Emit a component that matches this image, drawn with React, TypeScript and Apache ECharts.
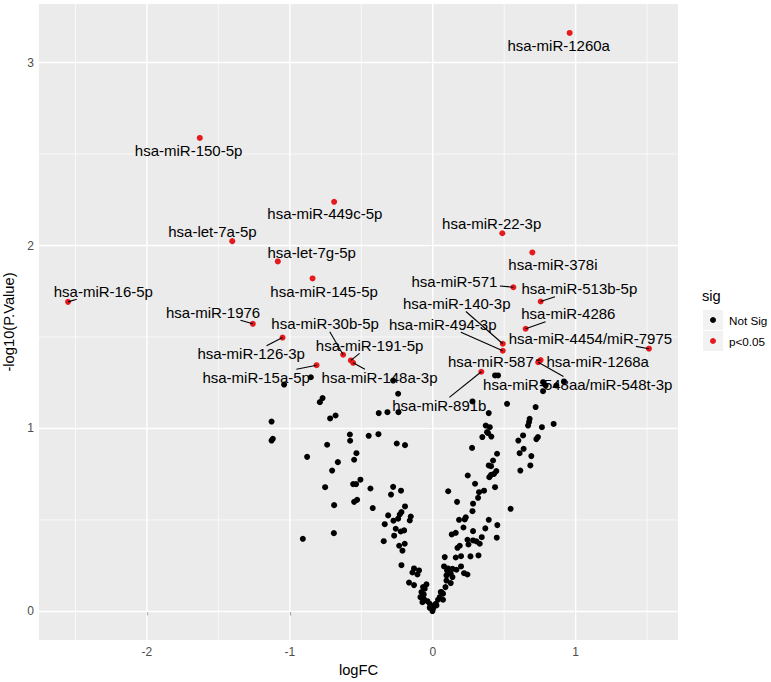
import React, { useEffect, useRef } from "react";
import * as echarts from "echarts";

const FONT = '"Liberation Sans", Arial, Helvetica, sans-serif';
const RED = "#E41A1C";

const LEGEND_TITLE = "sig";
const LEGEND_LABELS = ["Not Sig", "p<0.05"];

const X_TICKS = [-2, -1, 0, 1];
const X_MINOR = [-2.5, -1.5, -0.5, 0.5, 1.5];
const Y_TICKS = [0, 1, 2, 3];
const Y_MINOR = [0.5, 1.5, 2.5];

const SIG_NAMES = [
  "hsa-miR-1260a", "hsa-miR-150-5p", "hsa-miR-449c-5p", "hsa-miR-22-3p", "hsa-let-7a-5p",
  "hsa-miR-378i", "hsa-let-7g-5p", "hsa-miR-145-5p", "hsa-miR-571", "hsa-miR-513b-5p",
  "hsa-miR-16-5p", "hsa-miR-1976", "hsa-miR-4286", "hsa-miR-126-3p", "hsa-miR-140-3p",
  "hsa-miR-4454/miR-7975", "hsa-miR-494-3p", "hsa-miR-30b-5p", "hsa-miR-191-5p", "hsa-miR-587",
  "hsa-miR-1268a", "hsa-miR-548aa/miR-548t-3p", "hsa-miR-148a-3p", "hsa-miR-15a-5p", "hsa-miR-891b",
];
const SIG_LOGFC = [
  0.958, -1.63, -0.69, 0.487, -1.403, 0.697, -1.084, -0.841, 0.564, 0.755,
  -2.552, -1.259, 0.65, -1.051, 0.49, 1.513, 0.49, -0.627, -0.573, 0.755,
  0.742, 0.738, -0.557, -0.813, 0.34,
];
const SIG_NEGLOGP = [
  3.162, 2.588, 2.239, 2.067, 2.024, 1.962, 1.913, 1.82, 1.772, 1.694,
  1.692, 1.572, 1.545, 1.497, 1.463, 1.436, 1.425, 1.403, 1.372, 1.374,
  1.366, 1.362, 1.359, 1.346, 1.31,
];

const NS_LOGFC = [
  -1.04, -0.853, -0.771, -0.79, -1.128, -0.68, -0.718, -1.119, -1.128, -0.58, -0.578, -0.448, -0.739, -0.534, -0.879,
  -0.664, -0.55, -0.704, -0.506, -0.557, -0.536, -0.753, -0.436, -0.55, -0.529, -0.69, -0.42, -0.692, -0.909,
  -0.252, -0.194, -0.277, -0.222, -0.292, -0.194, -0.219, -0.231, -0.312, -0.154, -0.161, -0.275, -0.242, -0.336,
  -0.259, -0.224, -0.2, -0.27, -0.235, -0.196, -0.343, -0.212, -0.219, -0.131, -0.096, -0.142, -0.107, -0.166,
  -0.131, -0.044, -0.056, -0.079, -0.063, -0.086, -0.063, -0.037, -0.021, -0.009, 0.002, 0.026, -0.002, 0.037,
  0.061, 0.084, 0.108, 0.079, 0.1, 0.096, 0.089, 0.072,
  0.275, 0.45, 0.422, 0.392, 0.408, 0.445, 0.429, 0.396, 0.408, 0.245, 0.296, 0.436, 0.324, 0.359, 0.317,
  0.282, 0.17, 0.278, 0.231, 0.224, 0.184, 0.392, 0.452, 0.215, 0.368, 0.282, 0.161, 0.133, 0.343, 0.448,
  0.243, 0.282, 0.306, 0.329, 0.25, 0.189, 0.173, 0.198, 0.161, 0.264, 0.32, 0.107, 0.138, 0.166, 0.198,
  0.126, 0.096, 0.138, 0.219, 0.243, 0.126, 0.056, 0.049, 0.072, 0.021, 0.002, -0.068, -0.072, -0.021, 0.545,
  0.436, 0.457, 0.772, 0.79, 0.865, 0.918, 0.772, 0.278, 0.52, 0.72, 0.392, 0.678, 0.674, 0.667, 0.846,
  0.764, 0.371, 0.399, 0.38, 0.387, 0.41, 0.347, 0.632, 0.736, 0.725, 0.599, 0.636, 0.608, 0.69, 0.683, 0.613,
  -0.277, -0.242, -0.378, -0.317, -0.24, -0.38,
];
const NS_NEGLOGP = [
  1.24, 1.28, 1.166, 1.144, 1.038, 1.071, 1.055, 0.944, 0.934, 0.967, 0.933, 0.96, 0.911, 0.865, 0.845,
  0.816, 0.829, 0.77, 0.72, 0.696, 0.696, 0.679, 0.672, 0.599, 0.61, 0.581, 0.565, 0.428, 0.397,
  0.918, 0.909, 0.681, 0.66, 0.639, 0.574, 0.543, 0.53, 0.525, 0.519, 0.497, 0.496, 0.507, 0.477,
  0.452, 0.437, 0.443, 0.414, 0.359, 0.37, 0.384, 0.332, 0.253, 0.235, 0.224, 0.213, 0.202, 0.158,
  0.144, 0.148, 0.124, 0.106, 0.093, 0.078, 0.069, 0.056, 0.042, 0.029, 0.015, 0.033, 0.002, 0.064,
  0.106, 0.297, 0.657, 0.246, 0.224, 0.169, 0.133, 0.097,
  0.894, 0.862, 0.825, 0.798, 0.794, 0.767, 0.752, 0.734, 0.747, 0.743, 0.698, 0.679, 0.652, 0.66, 0.621,
  0.589, 0.599, 0.548, 0.515, 0.503, 0.501, 0.501, 0.472, 0.459, 0.454, 0.439, 0.43, 0.421, 0.406, 0.403,
  0.392, 0.388, 0.383, 0.37, 0.366, 0.359, 0.348, 0.302, 0.295, 0.301, 0.306, 0.235, 0.233, 0.228, 0.246,
  0.206, 0.197, 0.188, 0.209, 0.202, 0.155, 0.106, 0.078, 0.064, 0.042, 0.027, 0.133, 0.051, 0.02, 0.561,
  1.29, 1.29, 1.253, 1.235, 1.235, 1.257, 1.204, 1.148, 1.135, 1.117, 1.084, 1.053, 1.035, 1.016, 1.025,
  1.007, 1.016, 1.007, 0.98, 0.975, 0.956, 0.953, 0.962, 0.953, 0.942, 0.934, 0.889, 0.865, 0.849, 0.798, 0.77,
  1.262, 1.19, 1.084, 1.089, 1.089, 0.969,
];

// label placement (pixel offset of label centre from its point) and whether a segment is drawn
const LABEL_OFFSETS: Record<string, [number, number, boolean]> = {
  "hsa-miR-1260a": [-11, 12.4, false],
  "hsa-miR-150-5p": [-11.2, 12.6, false],
  "hsa-miR-449c-5p": [-9.3, 11.4, false],
  "hsa-miR-22-3p": [-10.7, -9.4, false],
  "hsa-let-7a-5p": [-19.8, -9.7, false],
  "hsa-miR-378i": [20.6, 12.3, false],
  "hsa-let-7g-5p": [33.8, -9.3, false],
  "hsa-miR-145-5p": [11.5, 12.7, false],
  "hsa-miR-571": [-58.9, -5.7, true],
  "hsa-miR-513b-5p": [38.7, -12.7, true],
  "hsa-miR-16-5p": [35.3, -10.6, true],
  "hsa-miR-1976": [-39.7, -11.6, true],
  "hsa-miR-4286": [42.7, -15, true],
  "hsa-miR-126-3p": [-31.4, 16.3, true],
  "hsa-miR-140-3p": [-46, -40.3, true],
  "hsa-miR-4454/miR-7975": [-58.5, -10.3, true],
  "hsa-miR-494-3p": [-60, -26.5, true],
  "hsa-miR-30b-5p": [-18, -31, true],
  "hsa-miR-191-5p": [18.7, -15, true],
  "hsa-miR-587": [-49.8, 1.2, true],
  "hsa-miR-1268a": [58.9, -0.3, false],
  "hsa-miR-548aa/miR-548t-3p": [39.5, 22.2, true],
  "hsa-miR-148a-3p": [26.4, 14.4, true],
  "hsa-miR-15a-5p": [-60.4, 12, true],
  "hsa-miR-891b": [-42, 33.6, true],
};

export default function App() {
  const ref = useRef<HTMLDivElement>(null);

  useEffect(() => {
    const el = ref.current;
    if (!el) return;
    const chart = echarts.init(el, undefined, { renderer: "svg" });

    const allX = [...SIG_LOGFC, ...NS_LOGFC];
    const allY = [...SIG_NEGLOGP, ...NS_NEGLOGP];
    const xLo = Math.min(...allX), xHi = Math.max(...allX);
    const yLo = Math.min(...allY), yHi = Math.max(...allY);
    const xPad = (xHi - xLo) * 0.05, yPad = (yHi - yLo) * 0.05;

    const ctx = document.createElement("canvas").getContext("2d");
    const labelFont = `15px ${FONT}`;
    if (ctx) ctx.font = labelFont;
    const widths = SIG_NAMES.map((n) => (ctx ? ctx.measureText(n).width : n.length * 8));

    const gridData = [
      ...X_TICKS.map((v) => [v, 0, 0]),
      ...X_MINOR.map((v) => [v, 0, 1]),
      ...Y_TICKS.map((v) => [0, v, 2]),
      ...Y_MINOR.map((v) => [0, v, 3]),
    ];

    const option: any = {
      animation: false,
      backgroundColor: "#ffffff",
      grid: {
        left: 39, top: 4, width: 639, height: 636,
        show: true, backgroundColor: "#EBEBEB", borderWidth: 0,
        containLabel: false, outerBoundsMode: "none",
      },
      xAxis: {
        type: "value",
        min: xLo - xPad, max: xHi + xPad,
        axisLine: { show: false },
        splitLine: { show: false },
        axisTick: { show: true, customValues: X_TICKS, length: 4, lineStyle: { color: "#333333", width: 1.1 } },
        axisLabel: { customValues: X_TICKS, color: "#4D4D4D", fontSize: 12, fontFamily: FONT, margin: 6 },
        name: "logFC", nameLocation: "middle", nameGap: 20,
        nameTextStyle: { color: "#000", fontSize: 14.7, fontFamily: FONT },
      },
      yAxis: {
        type: "value",
        min: yLo - yPad, max: yHi + yPad,
        axisLine: { show: false },
        splitLine: { show: false },
        axisTick: { show: true, customValues: Y_TICKS, length: 4, lineStyle: { color: "#333333", width: 1.1 } },
        axisLabel: { customValues: Y_TICKS, color: "#4D4D4D", fontSize: 12, fontFamily: FONT, margin: 5 },
        name: "-log10(P.Value)", nameLocation: "middle", nameGap: 21, nameRotate: 90,
        nameTextStyle: { color: "#000", fontSize: 14.7, fontFamily: FONT },
      },
      series: [
        {
          type: "custom",
          silent: true,
          z: 1,
          data: gridData,
          encode: { x: 0, y: 1 },
          renderItem: (params: any, api: any) => {
            const cs = params.coordSys;
            const kind = api.value(2);
            const p = api.coord([api.value(0), api.value(1)]);
            const major = kind === 0 || kind === 2;
            const vertical = kind < 2;
            const shape = vertical
              ? { x1: p[0], y1: cs.y, x2: p[0], y2: cs.y + cs.height }
              : { x1: cs.x, y1: p[1], x2: cs.x + cs.width, y2: p[1] };
            return { type: "line", shape, style: { stroke: "#FFFFFF", lineWidth: major ? 1.4 : 0.7 } };
          },
        },
        {
          name: LEGEND_LABELS[0],
          type: "scatter",
          z: 2,
          silent: true,
          symbol: "circle",
          symbolSize: 6,
          itemStyle: { color: "#000000", opacity: 1 },
          data: NS_LOGFC.map((x, i) => [x, NS_NEGLOGP[i]]),
        },
        {
          name: LEGEND_LABELS[1],
          type: "scatter",
          z: 2,
          silent: true,
          symbol: "circle",
          symbolSize: 6,
          itemStyle: { color: RED, opacity: 1 },
          data: SIG_LOGFC.map((x, i) => ({ name: SIG_NAMES[i], value: [x, SIG_NEGLOGP[i]] })),
          label: {
            show: true,
            position: "inside",
            formatter: (p: any) => p.name,
            color: "#000000",
            fontSize: 15,
            fontFamily: FONT,
          },
          labelLayout: (params: any) => {
            const off = LABEL_OFFSETS[SIG_NAMES[params.dataIndex]] || [0, 0, false];
            return { dx: off[0], dy: off[1], hideOverlap: false };
          },
        },
        {
          type: "custom",
          silent: true,
          z: 3,
          data: SIG_LOGFC.map((x, i) => [x, SIG_NEGLOGP[i], i]),
          encode: { x: 0, y: 1 },
          renderItem: (params: any, api: any) => {
            const i = api.value(2);
            const off = LABEL_OFFSETS[SIG_NAMES[i]];
            if (!off || !off[2]) return { type: "group", children: [] };
            const p = api.coord([api.value(0), api.value(1)]);
            const dx = off[0], dy = off[1];
            const hw = widths[i] / 2 + 2.5, hh = 8;
            const tx = Math.abs(dx) > 0 ? 1 - hw / Math.abs(dx) : -Infinity;
            const ty = Math.abs(dy) > 0 ? 1 - hh / Math.abs(dy) : -Infinity;
            const t = Math.max(tx, ty);
            if (!(t > 0)) return { type: "group", children: [] };
            return {
              type: "line",
              shape: { x1: p[0], y1: p[1], x2: p[0] + t * dx, y2: p[1] + t * dy },
              style: { stroke: "#000000", lineWidth: 1.1 },
            };
          },
        },
      ],
      graphic: [
        { type: "text", x: 702, y: 296, style: { text: LEGEND_TITLE, fill: "#000", fontSize: 14.7, fontFamily: FONT, align: "left", verticalAlign: "middle" } },
        { type: "rect", shape: { x: 703, y: 310, width: 20, height: 20 }, style: { fill: "#F2F2F2" } },
        { type: "circle", shape: { cx: 713, cy: 320, r: 3 }, style: { fill: "#000000" } },
        { type: "text", x: 729, y: 320, style: { text: LEGEND_LABELS[0], fill: "#000", fontSize: 11.7, fontFamily: FONT, align: "left", verticalAlign: "middle" } },
        { type: "rect", shape: { x: 703, y: 331, width: 20, height: 20 }, style: { fill: "#F2F2F2" } },
        { type: "circle", shape: { cx: 713, cy: 341, r: 3 }, style: { fill: RED } },
        { type: "text", x: 729, y: 341, style: { text: LEGEND_LABELS[1], fill: "#000", fontSize: 11.7, fontFamily: FONT, align: "left", verticalAlign: "middle" } },
      ],
    };

    chart.setOption(option);
    return () => chart.dispose();
  }, []);

  return (
    <div
      ref={ref}
      style={{ position: "absolute", left: 0, top: 0, width: 771, height: 682, background: "#fff" }}
    />
  );
}
